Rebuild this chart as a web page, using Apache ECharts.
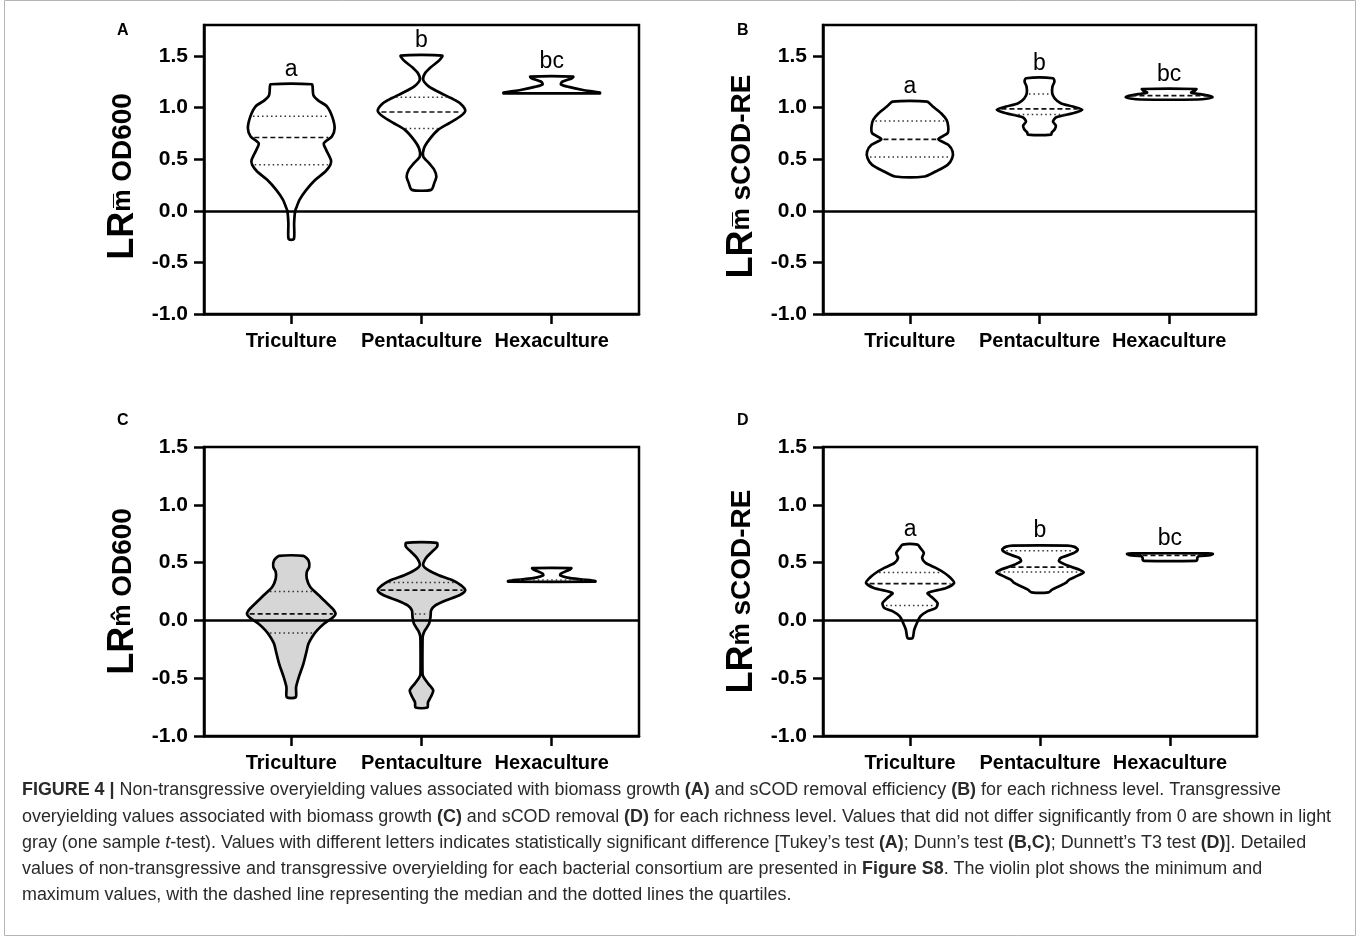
<!DOCTYPE html>
<html><head><meta charset="utf-8">
<script src="https://cdn.jsdelivr.net/npm/echarts@6/dist/echarts.min.js"></script>
<style>html,body{margin:0;padding:0;background:#fff}#c{width:1360px;height:937px}</style>
</head><body><div id="c"></div>
<script>
// ---------------- DATA ----------------
const categories = ['Triculture', 'Pentaculture', 'Hexaculture'];
const yTicks = [-1.0, -0.5, 0.0, 0.5, 1.0, 1.5];

// violin outlines: [value, half-width (fraction of category spacing)]
const A_tri = [[1.226,0.159],[1.20,0.164],[1.12,0.170],[1.07,0.206],[1.01,0.275],[0.91,0.315],[0.80,0.333],[0.72,0.312],[0.655,0.250],[0.59,0.268],[0.49,0.305],[0.445,0.300],[0.38,0.262],[0.30,0.185],[0.20,0.114],[0.106,0.063],[0.04,0.042],[0.0,0.030],[-0.12,0.022],[-0.274,0.020]];
const A_penta = [[1.503,0.159],[1.46,0.138],[1.39,0.071],[1.33,0.026],[1.268,0.013],[1.203,0.058],[1.139,0.151],[1.09,0.230],[1.042,0.296],[0.97,0.336],[0.913,0.296],[0.848,0.212],[0.784,0.127],[0.687,0.058],[0.606,0.019],[0.526,0.013],[0.461,0.058],[0.397,0.098],[0.332,0.114],[0.268,0.098],[0.203,0.074]];
const A_hexa = [[1.30,0.165],[1.285,0.155],[1.25,0.08],[1.225,0.07],[1.20,0.13],[1.17,0.24],[1.155,0.32],[1.145,0.37],[1.138,0.37]];

const B_tri = [[1.058,0.132],[1.01,0.177],[0.945,0.241],[0.88,0.283],[0.816,0.296],[0.752,0.291],[0.694,0.220],[0.639,0.296],[0.574,0.330],[0.510,0.326],[0.445,0.291],[0.381,0.198],[0.332,0.114]];
const B_penta = [[1.284,0.105],[1.252,0.115],[1.203,0.100],[1.139,0.098],[1.09,0.117],[1.042,0.164],[1.010,0.257],[0.980,0.330],[0.945,0.257],[0.906,0.130],[0.865,0.104],[0.825,0.126],[0.79,0.118],[0.76,0.095],[0.738,0.090]];
const B_hexa = [[1.18,0.21],[1.165,0.20],[1.145,0.17],[1.13,0.24],[1.115,0.31],[1.10,0.335],[1.088,0.30],[1.078,0.22]];

const C_tri = [[0.558,0.093],[0.520,0.132],[0.462,0.138],[0.419,0.119],[0.361,0.119],[0.289,0.146],[0.217,0.212],[0.159,0.265],[0.101,0.317],[0.058,0.340],[0.023,0.317],[-0.029,0.251],[-0.087,0.198],[-0.145,0.159],[-0.202,0.132],[-0.260,0.119],[-0.376,0.093],[-0.491,0.058],[-0.578,0.037],[-0.665,0.034]];
const C_penta = [[0.671,0.119],[0.636,0.119],[0.592,0.079],[0.535,0.032],[0.477,0.013],[0.434,0.053],[0.390,0.132],[0.347,0.238],[0.303,0.304],[0.260,0.336],[0.217,0.291],[0.173,0.185],[0.130,0.106],[0.087,0.074],[0.029,0.069],[-0.029,0.058],[-0.087,0.026],[-0.130,0.011],[-0.173,0.008],[-0.462,0.008],[-0.491,0.016],[-0.549,0.053],[-0.607,0.090],[-0.665,0.070],[-0.708,0.050],[-0.754,0.045]];
const C_hexa = [[0.452,0.15],[0.44,0.14],[0.405,0.07],[0.39,0.065],[0.37,0.12],[0.355,0.22],[0.345,0.31],[0.34,0.335],[0.335,0.335]];

const D_tri = [[0.656,0.058],[0.627,0.079],[0.584,0.106],[0.540,0.093],[0.497,0.119],[0.454,0.198],[0.410,0.265],[0.367,0.312],[0.324,0.339],[0.280,0.278],[0.237,0.135],[0.194,0.175],[0.150,0.212],[0.107,0.198],[0.078,0.132],[0.035,0.079],[-0.023,0.053],[-0.081,0.032],[-0.153,0.019]];
const D_penta = [[0.647,0.212],[0.636,0.265],[0.613,0.291],[0.578,0.251],[0.540,0.159],[0.512,0.146],[0.474,0.212],[0.439,0.304],[0.416,0.336],[0.387,0.291],[0.353,0.225],[0.324,0.198],[0.295,0.146],[0.266,0.093],[0.243,0.066]];
const D_hexa = [[0.58,0.29],[0.575,0.33],[0.565,0.31],[0.555,0.22],[0.54,0.21],[0.525,0.21],[0.515,0.20]];

// quartiles [Q1, median, Q3]
const A_quartiles = [[0.445,0.71,0.915],[0.797,0.957,1.10],[null,null,null]];
const B_quartiles = [[0.52,0.692,0.87],[0.933,0.987,1.132],[null,1.115,null]];
const C_quartiles = [[-0.11,0.056,0.249],[0.055,0.262,0.327],[0.35,null,null]];
const D_quartiles = [[0.128,0.318,0.415],[0.418,0.461,0.602],[null,0.563,null]];

// significance letters
const lettersA = ['a','b','bc'];
const lettersB = ['a','b','bc'];
const lettersD = ['a','b','bc'];
// not significantly different from 0 (shown in light gray)
const notSigA = [false,false,false];
const notSigB = [false,false,false];
const notSigC = [true,true,false];
const notSigD = [false,false,false];

const captionLines = [
 '**FIGURE 4 |** Non-transgressive overyielding values associated with biomass growth **(A)** and sCOD removal efficiency **(B)** for each richness level. Transgressive',
 'overyielding values associated with biomass growth **(C)** and sCOD removal **(D)** for each richness level. Values that did not differ significantly from 0 are shown in light',
 'gray (one sample *t*-test). Values with different letters indicates statistically significant difference [Tukey\u2019s test **(A)**; Dunn\u2019s test **(B,C)**; Dunnett\u2019s T3 test **(D)**]. Detailed',
 'values of non-transgressive and transgressive overyielding for each bacterial consortium are presented in **Figure S8**. The violin plot shows the minimum and',
 'maximum values, with the dashed line representing the median and the dotted lines the quartiles.'
];

// ---------------- LAYOUT ----------------
const FONT = '"Liberation Sans", Arial, Helvetica, sans-serif';
const panels = [
  {tag:'A', tagPos:[117,31], violins:[A_tri,A_penta,A_hexa], quart:A_quartiles, letters:lettersA, gray:notSigA, ymax:1.8, mark:'\u0305', metric:'OD600', namePad:[0,14,0,0], grid:{left:204, top:25, width:435, height:289}},
  {tag:'B', tagPos:[737,31], violins:[B_tri,B_penta,B_hexa], quart:B_quartiles, letters:lettersB, gray:notSigB, ymax:1.8, mark:'\u0305', metric:'sCOD-RE', namePad:[0,14,0,0], grid:{left:823, top:25, width:433, height:289}},
  {tag:'C', tagPos:[117,421], violins:[C_tri,C_penta,C_hexa], quart:C_quartiles, letters:null, gray:notSigC, ymax:1.5, mark:'\u0302', metric:'OD600', namePad:[0,0,0,0], grid:{left:204, top:447, width:435, height:289}},
  {tag:'D', tagPos:[737,421], violins:[D_tri,D_penta,D_hexa], quart:D_quartiles, letters:lettersD, gray:notSigD, ymax:1.5, mark:'\u0302', metric:'sCOD-RE', namePad:[0,0,0,0], grid:{left:823, top:447, width:434, height:289}}
];

function halfAt(prof, v){
  for (let k=0;k<prof.length-1;k++){
    const a=prof[k], b=prof[k+1];
    if ((v<=a[0] && v>=b[0])){
      const t=(a[0]-v)/(a[0]-b[0]||1);
      return a[1]+(b[1]-a[1])*t;
    }
  }
  return 0;
}

function makeRender(panel){
  return function(params, api){
    const i = params.dataIndex;
    const prof = panel.violins[i];
    const right = prof.map(p => api.coord([i + p[1], p[0]]));
    const left = prof.slice().reverse().map(p => api.coord([i - p[1], p[0]]));
    const children = [{
      type:'polygon', shape:{points:right.concat(left), smooth:0.25},
      style:{fill: panel.gray[i] ? '#d6d6d6' : '#ffffff', stroke:'#000', lineWidth:2.7, lineJoin:'round'}
    }];
    (panel.quart[i]||[]).forEach((q,k)=>{
      if (q==null) return;
      const w = halfAt(prof,q);
      const p1 = api.coord([i-w,q]), p2 = api.coord([i+w,q]);
      const med = k===1;
      children.push({type:'line', shape:{x1:p1[0]+2.5,y1:p1[1],x2:p2[0]-2.5,y2:p2[1]},
        style:{stroke: med?'#111':'#333', lineWidth: med?1.7:1.5, lineDash: med?[5,3]:[1.5,3]}});
    });
    if (panel.letters){
      const top = api.coord([i, prof[0][0]]);
      children.push({type:'text', x:top[0], y:top[1]-3,
        style:{text:panel.letters[i], fontSize:23, fontFamily:FONT, fill:'#000', align:'center', verticalAlign:'bottom'}});
    }
    return {type:'group', children};
  };
}

const grids=[], xAxes=[], yAxes=[], series=[], graphics=[];
panels.forEach((p,idx)=>{
  grids.push(Object.assign({show:true, borderColor:'#000', borderWidth:2.5, backgroundColor:'transparent'}, p.grid));
  xAxes.push({type:'value', gridIndex:idx, min:-0.67, max:2.67,
    axisLine:{show:true, onZero:false, lineStyle:{color:'#000', width:2.5}},
    axisTick:{show:true, length:10, lineStyle:{color:'#000', width:2.5}, customValues:[0,1,2]},
    axisLabel:{customValues:[0,1,2], formatter:v=>categories[Math.round(v)], color:'#000', fontSize:20, fontWeight:'bold', fontFamily:FONT, margin:17},
    splitLine:{show:false}});
  yAxes.push({type:'value', gridIndex:idx, min:-1, max:p.ymax,
    axisLine:{show:true, onZero:false, lineStyle:{color:'#000', width:2.5}},
    axisTick:{show:true, length:10, lineStyle:{color:'#000', width:2.5}, customValues:yTicks},
    axisLabel:{customValues:yTicks, formatter:v=>v.toFixed(1), color:'#000', fontSize:21, fontWeight:'bold', fontFamily:FONT, margin:16},
    splitLine:{show:false},
    name:'{lr|LR}{m|m' + p.mark + '}{t| ' + p.metric + '}',
    nameLocation:'middle', nameGap:63, nameRotate:90,
    nameTextStyle:{color:'#000', padding:p.namePad, rich:{
      lr:{fontSize:36, fontWeight:'bold', fontFamily:FONT, color:'#000'},
      m:{fontSize:25, fontWeight:'bold', fontFamily:FONT, color:'#000'},
      t:{fontSize:28, fontWeight:'bold', fontFamily:FONT, color:'#000'}
    }}});
  series.push({type:'custom', xAxisIndex:idx, yAxisIndex:idx, renderItem:makeRender(p),
    data:p.violins.map((v,i)=>[i, v[0][0]]), clip:false, silent:true, z:3,
    markLine:{silent:true, symbol:'none', label:{show:false}, animation:false,
      lineStyle:{color:'#000', width:2.5, type:'solid'}, data:[{yAxis:0}]}});
  graphics.push({type:'text', x:p.tagPos[0], y:p.tagPos[1],
    style:{text:p.tag, fontSize:16, fontWeight:'bold', fontFamily:FONT, fill:'#000', verticalAlign:'middle'}});
});

// caption
const ctx = document.createElement('canvas').getContext('2d');
function fontAvail(f){
  ctx.font = '40px monospace'; const a = ctx.measureText('Non-transgressive overyielding').width;
  ctx.font = '40px "' + f + '", monospace'; const b = ctx.measureText('Non-transgressive overyielding').width;
  return Math.abs(a-b) > 0.5;
}
const capFamily = fontAvail('Liberation Sans Narrow') ? '"Liberation Sans Narrow"' : '"Liberation Sans"';
function segs(line){
  return line.split(/(\*\*[^*]+\*\*|\*[^*]+\*)/).filter(s=>s.length).map(s=>{
    if (s.startsWith('**')) return {k:'b', t:s.slice(2,-2)};
    if (s.startsWith('*')) return {k:'i', t:s.slice(1,-1)};
    return {k:'r', t:s};
  });
}
function measure(line, size){
  let w=0;
  segs(line).forEach(s=>{
    ctx.font = (s.k==='b'?'bold ':'') + (s.k==='i'?'italic ':'') + size + 'px ' + capFamily;
    w += ctx.measureText(s.t).width;
  });
  return w;
}
const targets = [1256, 1316, 1280, 1245];
let sz = 0; targets.forEach((t,k)=>{ sz += 100*t/measure(captionLines[k],100); }); sz /= targets.length;
const capY = [790, 817, 843, 869, 895];
captionLines.forEach((line,k)=>{
  const text = segs(line).map(s=>'{'+s.k+'|'+s.t+'}').join('');
  graphics.push({type:'text', x:22, y:capY[k], style:{text, verticalAlign:'middle', fill:'#2a2a2a',
    rich:{r:{fontSize:sz, fontFamily:capFamily, fill:'#2a2a2a'},
          b:{fontSize:sz, fontFamily:capFamily, fontWeight:'bold', fill:'#2a2a2a'},
          i:{fontSize:sz, fontFamily:capFamily, fontStyle:'italic', fill:'#2a2a2a'}}}});
});
graphics.push({type:'rect', shape:{x:4.5, y:0.5, width:1351, height:935}, style:{fill:'none', stroke:'#b5b5b5', lineWidth:1}, z:-1});

const chart = echarts.init(document.getElementById('c'), null, {renderer:'canvas'});
chart.setOption({animation:false, backgroundColor:'#fff', grid:grids, xAxis:xAxes, yAxis:yAxes, series, graphic:graphics});
</script></body></html>
